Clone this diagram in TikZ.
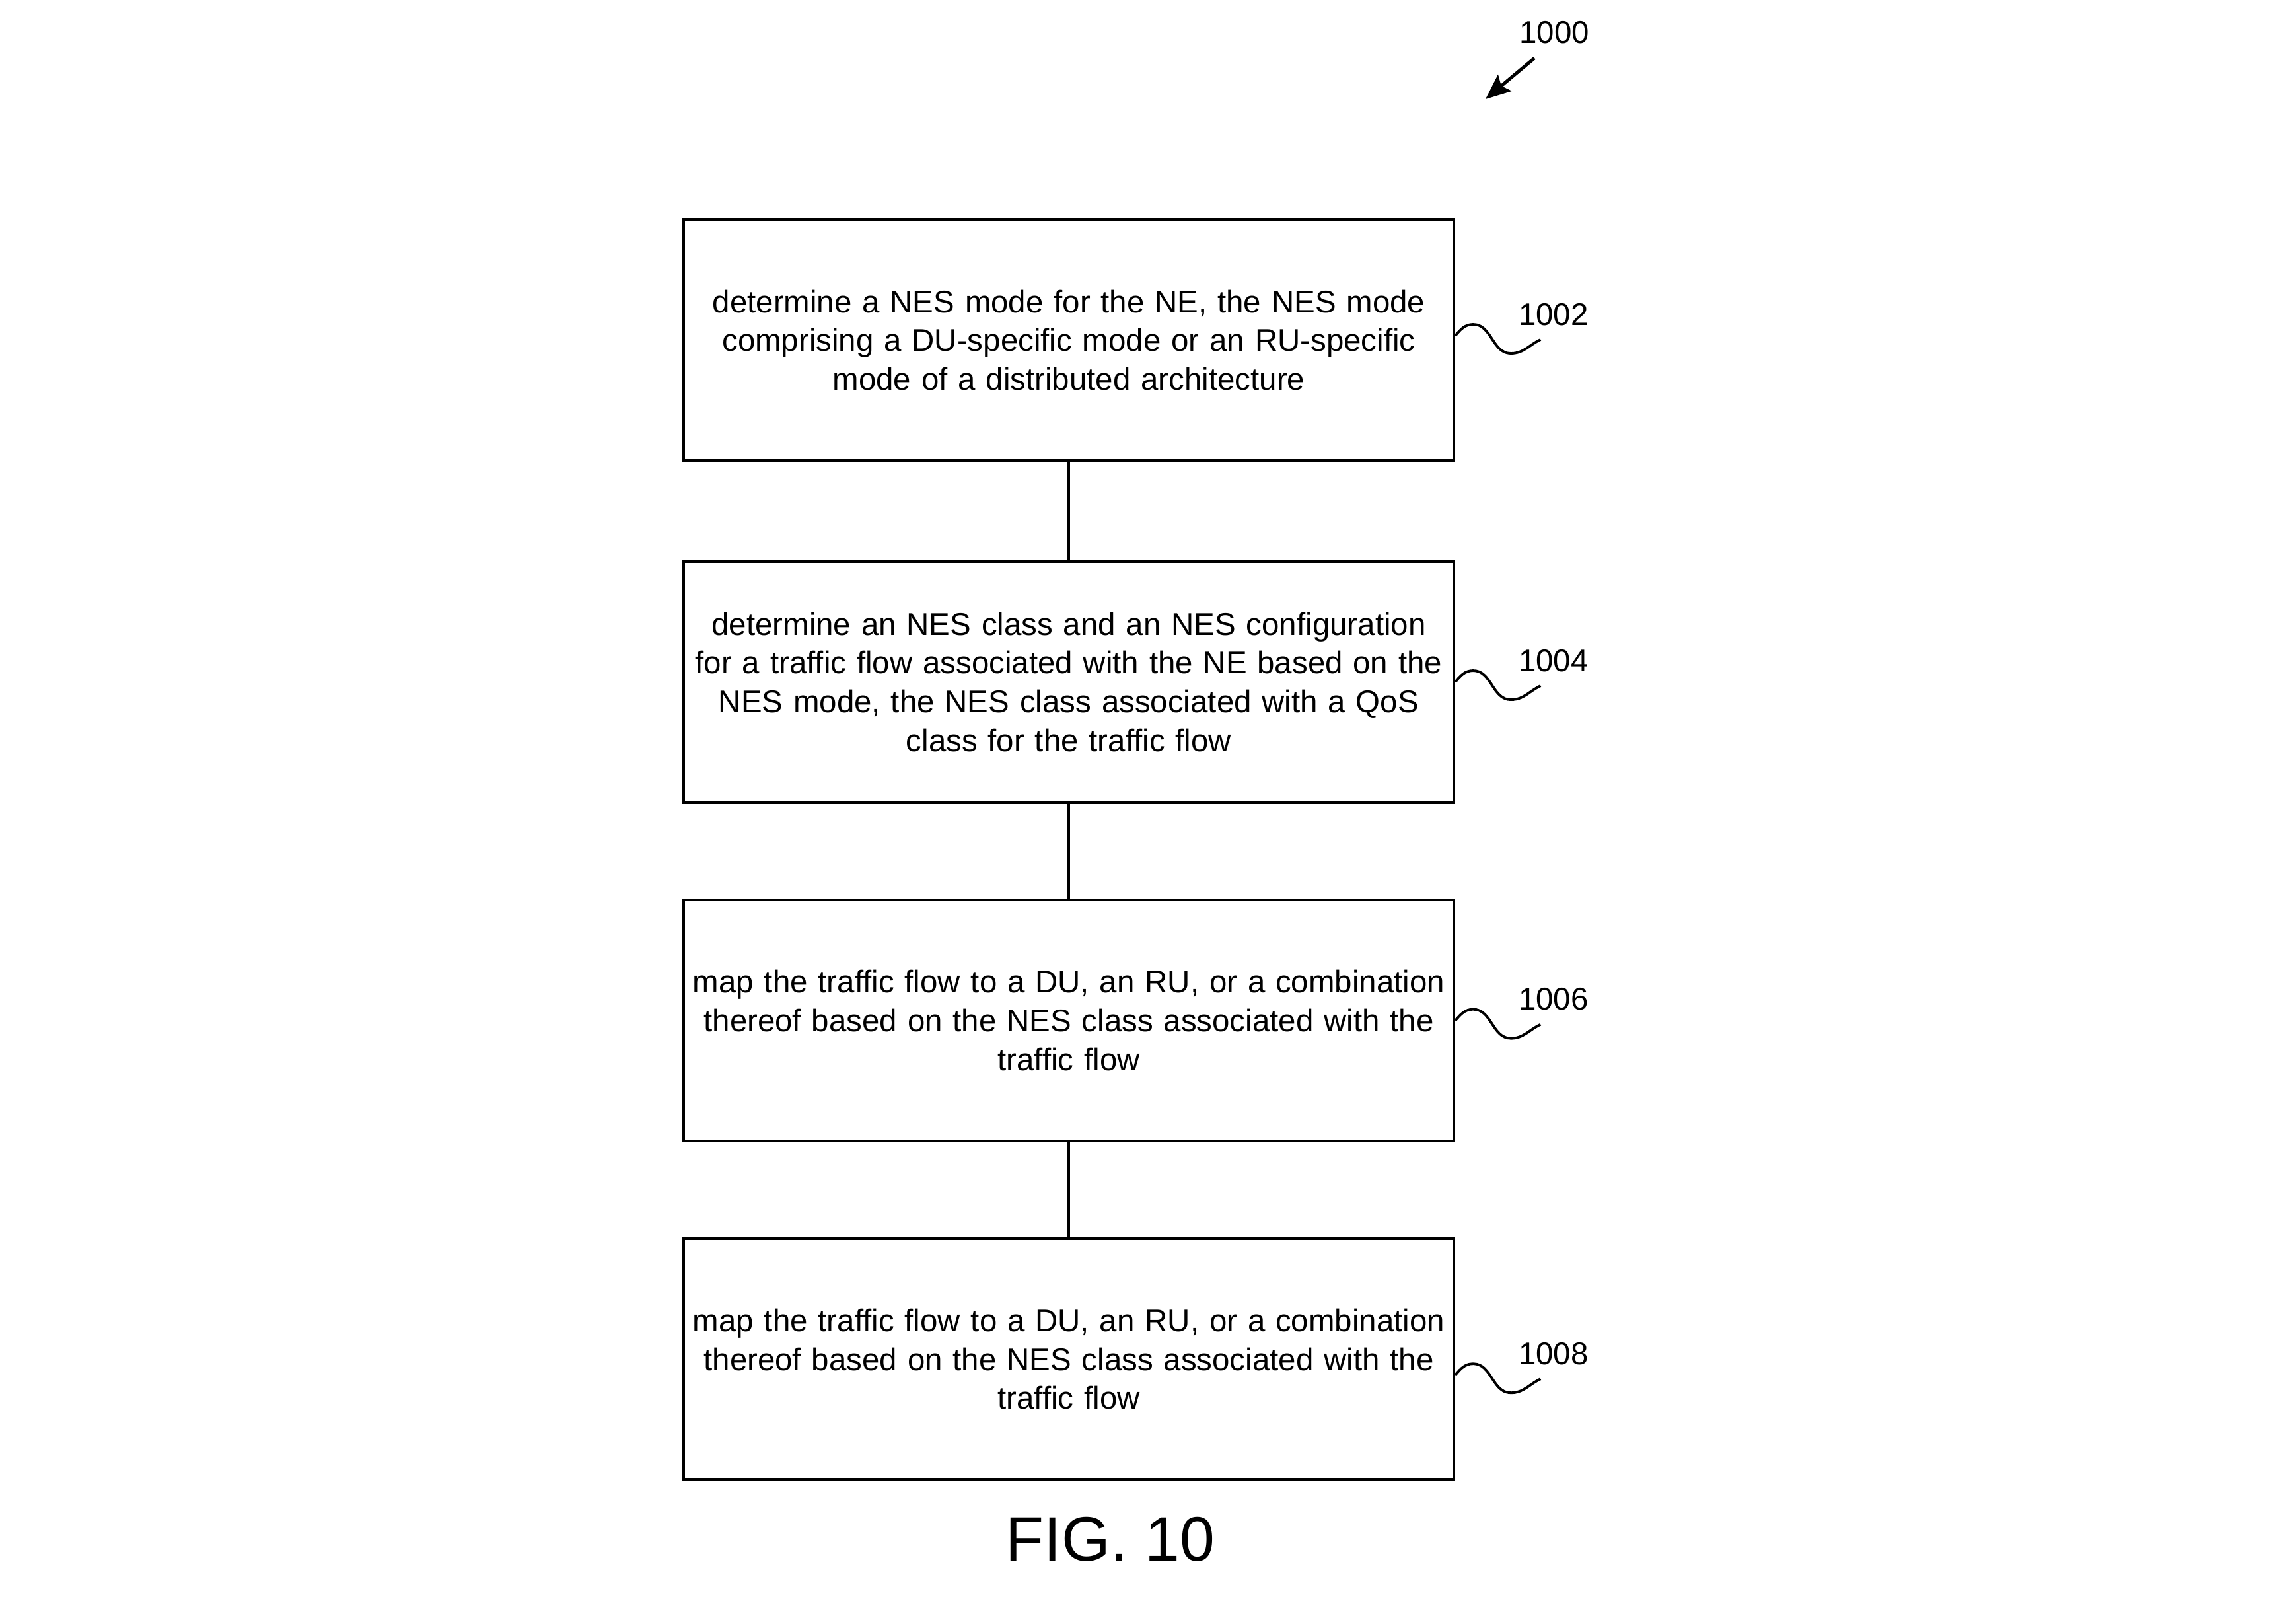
\documentclass[tikz,border=0pt]{standalone}
\usepackage{fontspec}
\setmainfont{Liberation Sans}
\usepackage{tikz}
\usetikzlibrary{arrows.meta, positioning}

\begin{document}
\begin{tikzpicture}[
  node distance=1.43cm,
  stepbox/.style={rectangle, draw=black, line width=1.3pt,
              text width=11.66cm, minimum width=11.66cm, minimum height=3.65cm,
              align=center, inner sep=0pt,
              font=\fontsize{13.5}{16.7}\selectfont},
  link/.style={line width=1pt},
  squig/.style={line width=1.1pt},
  reflabel/.style={font=\fontsize{13.5}{16}\selectfont, inner sep=0pt},
  arrow/.style={-{Stealth[length=0.38cm, width=0.32cm, inset=0.07cm]}, line width=1.4pt}
]
\useasboundingbox (0,0) rectangle (34.76,-24.45);

\node[stepbox] (b1) at (16.18,-5.15) {%
  determine a NES mode for the NE, the NES mode\\
  comprising a DU-specific mode or an RU-specific\\
  mode of a distributed architecture
};
\node[stepbox, below=1.475cm of b1] (b2) {%
  determine an NES class and an NES configuration\\
  for a traffic flow associated with the NE based on the\\
  NES mode, the NES class associated with a QoS\\
  class for the traffic flow
};
\node[stepbox, below=of b2] (b3) {%
  map the traffic flow to a DU, an RU, or a combination\\
  thereof based on the NES class associated with the\\
  traffic flow
};
\node[stepbox, below=of b3] (b4) {%
  map the traffic flow to a DU, an RU, or a combination\\
  thereof based on the NES class associated with the\\
  traffic flow
};

\draw[link] (b1) -- (b2);
\draw[link] (b2) -- (b3);
\draw[link] (b3) -- (b4);

% reference numerals
\draw[squig] ([yshift=0.07cm]b1.east) coordinate (s1)
  to[out=50,in=180] ++(0.27,0.17) to[out=0,in=180] ++(0.57,-0.44) to[out=0,in=205] ++(0.45,0.21);
\node[reflabel, anchor=base west] (l1002) at ([shift={(0.95,0.16)}]s1) {1002};

\draw[squig] (b2.east) coordinate (s2)
  to[out=50,in=180] ++(0.27,0.17) to[out=0,in=180] ++(0.57,-0.44) to[out=0,in=205] ++(0.45,0.21);
\node[reflabel, anchor=base west] (l1004) at ([shift={(0.95,0.16)}]s2) {1004};

\draw[squig] (b3.east) coordinate (s3)
  to[out=50,in=180] ++(0.27,0.17) to[out=0,in=180] ++(0.57,-0.44) to[out=0,in=205] ++(0.45,0.21);
\node[reflabel, anchor=base west] (l1006) at ([shift={(0.95,0.16)}]s3) {1006};

\draw[squig] ([yshift=-0.24cm]b4.east) coordinate (s4)
  to[out=50,in=180] ++(0.27,0.17) to[out=0,in=180] ++(0.57,-0.44) to[out=0,in=205] ++(0.45,0.21);
\node[reflabel, anchor=base west] (l1008) at ([shift={(0.95,0.16)}]s4) {1008};

\node[reflabel] (l1000) at (23.53,-0.49) {1000};
\coordinate (tail) at (23.23,-0.88);
\coordinate (tip) at (22.49,-1.50);
\draw[arrow] (tail) -- (tip);

\node[font=\fontsize{27}{32}\selectfont] (fig) at (16.81,-23.30) {FIG. 10};

\end{tikzpicture}
\end{document}
